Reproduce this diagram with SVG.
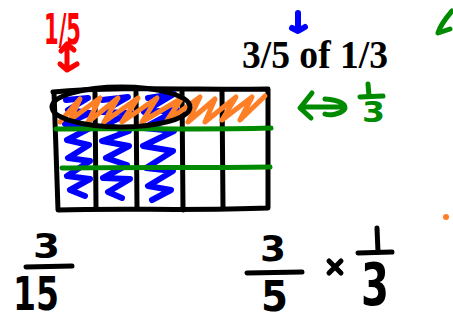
<svg xmlns="http://www.w3.org/2000/svg" width="453" height="322" viewBox="0 0 453 322">
<style>
.pen{fill:none;stroke-linecap:round;stroke-linejoin:round}
.blk{stroke:#000;stroke-width:5}
.blu{stroke:#0000ff;stroke-width:6}
.org{stroke:#ff7f27;stroke-width:5}
.grn{stroke:#008a00;stroke-width:5}
.red{stroke:#ff0000;stroke-width:5}
.hand{font-family:"DejaVu Sans",sans-serif;font-weight:bold}
</style>
<rect width="453" height="322" fill="#fff"/>
<g id="grid">
<path class="pen blk" d="M53,92 C120,86 200,90 268,89 L268,208 C200,211 120,208 58,210 L56,150 L54,92"/>
<path class="pen blk" d="M95,93 L96,208 M136,92 L137,208 M182,91 L183,210 M222,91 L223,208"/>
</g>
<g id="blue-shading">
<polyline class="pen blu" points="66,100 88,98 68,110 90,113 65,124 90,128 67,140 89,145 68,158 90,161 67,176 90,179 70,190 85,196"/>
<polyline class="pen blu" points="102,100 128,97 102,112 131,113 104,125 129,131 102,141 129,146 106,158 127,165 103,178 130,179 108,192 122,198"/>
<polyline class="pen blu" points="148,98 174,94 144,112 177,110 144,128 174,131 143,146 173,151 146,168 173,171 148,186 171,190 152,200"/>
</g>
<g id="orange-shading">
<polyline class="pen org" points="60,122 80,99 70,120 100,98 88,122 118,98 104,122 138,98 122,122 157,98 142,122 182,98 166,122 200,97 188,122 215,99 205,122 236,97 222,120 252,97 240,120 265,96"/>
</g>
<g id="green-lines">
<path class="pen grn" d="M56,129 C120,128 200,130 271,128"/>
<path class="pen grn" d="M62,168 C130,167 200,168 270,167"/>
</g>
<g id="ellipse">
<ellipse class="pen blk" cx="121" cy="107" rx="69" ry="20"/>
</g>
<g id="red-fifth">
<text x="44" y="44" class="hand" font-size="42" fill="#ff0000" textLength="37" lengthAdjust="spacingAndGlyphs">1/5</text>
<path class="pen red" d="M67,44 L67,70 M61,51 L67,44 L74,50 M60,64 L67,70 L77,64"/>
</g>
<g id="blue-mark">
<path class="pen blu" d="M298,13 L298,29 M292,28 L298,31 L305,27"/>
</g>
<g id="green-mark">
<path class="pen grn" d="M452,11 C446,18 440,26 438,33 L450,29"/>
</g>
<g id="title">
<text x="242" y="68" font-family="Liberation Serif,serif" font-weight="bold" font-size="39" fill="#000" textLength="146" lengthAdjust="spacingAndGlyphs">3/5 of 1/3</text>
</g>
<g id="green-equiv">
<path class="pen grn" d="M312,93 L300,108 L311,118 M301,107 L341,107 M325,99 C340,100 348,105 344,110 C340,114 330,116 325,114"/>
<path class="pen grn" d="M368,84 L369,96 M360,97 L383,96"/>
<text x="362" y="122" class="hand" font-size="28" fill="#008a00" textLength="23" lengthAdjust="spacingAndGlyphs">3</text>
</g>
<g id="left-fraction">
<text x="33" y="258" class="hand" font-size="34" fill="#000" textLength="27" lengthAdjust="spacingAndGlyphs">3</text>
<path class="pen blk" d="M26,267 L72,266"/>
<text x="13" y="310" class="hand" font-size="46" fill="#000" textLength="46" lengthAdjust="spacingAndGlyphs">15</text>
</g>
<g id="right-product">
<text x="260" y="261" class="hand" font-size="36" fill="#000" textLength="26" lengthAdjust="spacingAndGlyphs">3</text>
<path class="pen blk" d="M247,273 L302,272"/>
<text x="261" y="311" class="hand" font-size="42" fill="#000" textLength="27" lengthAdjust="spacingAndGlyphs">5</text>
<path class="pen blk" d="M329,261 L341,273 M341,261 L329,273"/>
<path class="pen blk" d="M377,228 L378,252 M358,253 L392,252"/>
<text x="361" y="305" class="hand" font-size="58" fill="#000" textLength="28" lengthAdjust="spacingAndGlyphs">3</text>
</g>
<g id="orange-dot">
<circle cx="446" cy="217" r="3" fill="#ff7f27"/>
</g>
</svg>
